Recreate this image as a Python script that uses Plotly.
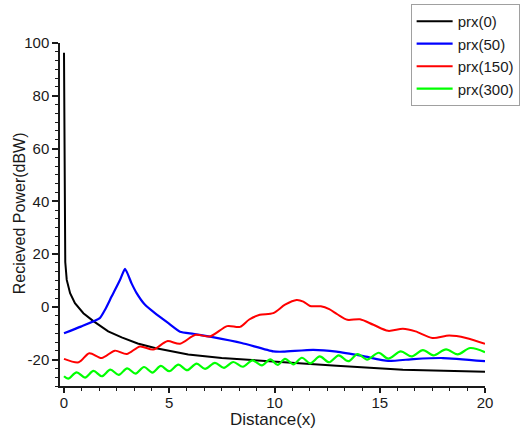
import plotly.graph_objects as go

# prx(0): received power with no offset
black_x = [0, 0.03, 0.06, 0.13, 0.29, 0.52, 0.92, 1.38, 2.1, 2.74, 3.5, 4.32,
           5.9, 7.49, 9.1, 10.5, 12.95, 16.1, 18.0, 20.0]
black_y = [96.3, 50, 17.0, 10.2, 5.2, 1.4, -2.4, -5.3, -9.3, -11.6, -13.9, -15.6,
           -18.1, -19.4, -20.3, -21.0, -22.3, -23.8, -24.2, -24.6]

# prx(50)
blue_x = [0, 0.8, 1.7, 1.95, 2.26, 2.66, 2.9, 3.21, 3.45, 3.85, 4.32, 4.96, 5.51,
          6.14, 7.0, 8.44, 9.94, 10.42, 11.84, 12.95, 14.22, 15.4, 16.6, 18.0, 20.0]
blue_y = [-10.0, -7.5, -4.3, -1.1, 3.9, 10.2, 14.4, 8.9, 5.2, 0.75, -2.4, -6.2, -9.4,
          -10.2, -11.4, -13.7, -16.9, -17.0, -16.3, -17.0, -18.7, -20.5, -19.8, -19.4, -20.6]

# prx(150)
red_x = [0, 0.7, 1.2, 1.79, 2.42, 2.98, 3.61, 4.24, 4.9, 5.51, 6.25, 6.94, 7.75,
         8.36, 8.8, 9.3, 9.94, 10.5, 11.05, 11.37, 11.69, 12.2, 12.6, 13.0, 13.46,
         14.06, 14.7, 15.4, 16.1, 16.7, 17.5, 18.3, 19.1, 20.0]
red_y = [-19.7, -21.0, -17.6, -19.4, -16.6, -17.9, -15.0, -16.2, -13.0, -14.0, -10.6,
         -11.2, -7.3, -7.6, -4.8, -3.0, -2.4, 0.8, 2.6, 2.0, 0.3, 0.2, -0.9, -2.9, -4.9,
         -4.7, -6.8, -9.1, -8.3, -9.3, -11.8, -10.9, -11.8, -14.0]

# prx(300)
green_x = [0, 0.2, 0.6, 1.0, 1.4, 1.8, 2.2, 2.6, 3.0, 3.4, 3.8, 4.2, 4.6, 5.0, 5.43,
           5.85, 6.3, 6.7, 7.17, 7.6, 8.04, 8.5, 8.95, 9.4, 9.8, 10.15, 10.5, 10.9,
           11.3, 11.7, 12.15, 12.6, 13.05, 13.5, 13.95, 14.4, 14.95, 15.4, 16.0, 16.5,
           17.05, 17.55, 18.15, 18.7, 19.3, 20.0]
green_y = [-26.3, -27.2, -24.8, -26.8, -24.3, -26.3, -23.8, -25.8, -23.3, -25.3, -22.8,
           -24.9, -22.4, -24.4, -21.9, -24.0, -21.5, -23.5, -21.2, -23.1, -20.9, -22.7,
           -20.3, -22.2, -19.9, -22.0, -19.7, -21.8, -19.3, -21.4, -18.8, -21.0, -18.4,
           -20.6, -17.9, -20.0, -17.4, -19.6, -16.9, -18.8, -16.4, -18.4, -16.1, -18.0,
           -15.6, -17.2]

x_ticks = [0, 5, 10, 15, 20]
x_tick_labels = ["0", "5", "10", "15", "20"]
y_ticks = [-20, 0, 20, 40, 60, 80, 100]
y_tick_labels = ["-20", "0", "20", "40", "60", "80", "100"]

FONT = "Liberation Sans, Arial, sans-serif"
INK = "#1a1a1a"

fig = go.Figure()
fig.add_trace(go.Scatter(x=black_x, y=black_y, name="prx(0)", mode="lines",
                         line=dict(color="#000000", width=2)))
fig.add_trace(go.Scatter(x=blue_x, y=blue_y, name="prx(50)", mode="lines",
                         line=dict(color="#0000ff", width=2.2, shape="spline", smoothing=0.5)))
fig.add_trace(go.Scatter(x=red_x, y=red_y, name="prx(150)", mode="lines",
                         line=dict(color="#ff0000", width=2, shape="spline", smoothing=0.8)))
fig.add_trace(go.Scatter(x=green_x, y=green_y, name="prx(300)", mode="lines",
                         line=dict(color="#00ff00", width=2.2, shape="spline", smoothing=0.9)))

axis_common = dict(
    showline=True, linecolor=INK, linewidth=1.5, mirror=False,
    showgrid=False, zeroline=False,
    ticks="outside", tickwidth=1.5, tickcolor=INK,
    tickfont=dict(family=FONT, size=15, color=INK),
)

fig.update_xaxes(range=[-0.19, 20], tickmode="array", tickvals=x_ticks,
                 ticktext=x_tick_labels, ticklen=5, ticklabelstandoff=-3,
                 minor=dict(ticks="outside", dtick=5 / 6, ticklen=3.5,
                            tickwidth=1, tickcolor=INK),
                 **axis_common)
fig.update_yaxes(range=[-30, 100], tickmode="array", tickvals=y_ticks,
                 ticktext=y_tick_labels, ticklen=6,
                 minor=dict(ticks="outside", dtick=20 / 6, ticklen=3.5,
                            tickwidth=1, tickcolor=INK),
                 **axis_common)

fig.update_layout(
    width=525, height=430,
    margin=dict(l=60, r=40, t=43, b=44, autoexpand=False),
    paper_bgcolor="white", plot_bgcolor="white",
    font=dict(family=FONT, color=INK),
    showlegend=True,
    legend=dict(x=0.825, y=1.114, xanchor="left", yanchor="top",
                bgcolor="white", bordercolor="#a0a0a0", borderwidth=1,
                font=dict(family=FONT, size=15, color=INK),
                itemwidth=36, tracegroupgap=0),
    annotations=[
        dict(text="Distance(x)", xref="paper", yref="paper", x=0.5, y=-0.098,
             xanchor="center", yanchor="middle", showarrow=False,
             font=dict(family=FONT, size=17, color=INK)),
        dict(text="Recieved Power(dBW)", xref="paper", yref="paper", x=-0.0953, y=0.505,
             xanchor="center", yanchor="middle", textangle=-90, showarrow=False,
             font=dict(family=FONT, size=16, color=INK)),
    ],
)

fig.write_html("out.html")
